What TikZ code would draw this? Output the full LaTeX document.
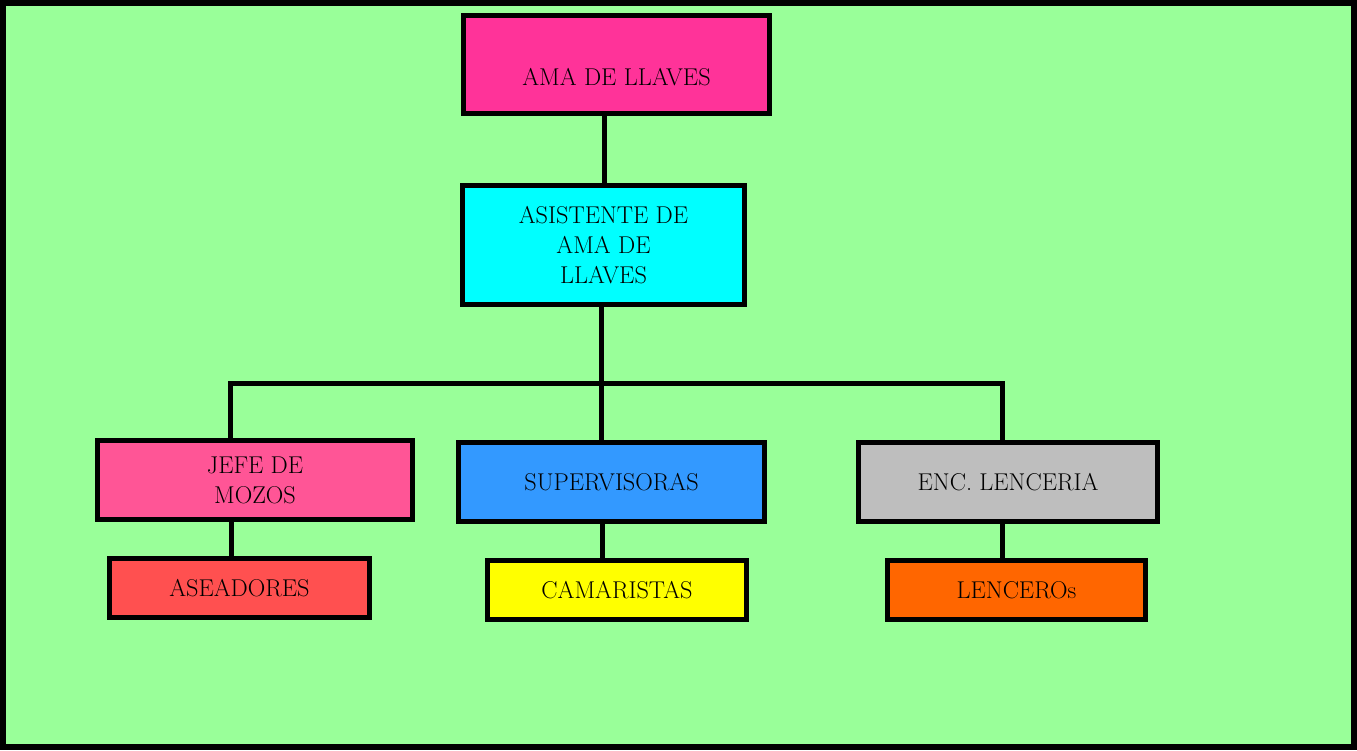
\documentclass[tikz,border=0pt]{standalone}
\usepackage{xcolor}
\definecolor{bggreen}{RGB}{153,255,153}
\definecolor{amacol}{RGB}{255,51,153}
\definecolor{asiscol}{RGB}{0,255,255}
\definecolor{jefecol}{RGB}{255,85,150}
\definecolor{aseacol}{RGB}{255,80,80}
\definecolor{supcol}{RGB}{51,153,255}
\definecolor{camcol}{RGB}{255,255,0}
\definecolor{enccol}{RGB}{190,190,190}
\definecolor{lenccol}{RGB}{255,102,0}
\begin{document}
\begin{tikzpicture}[x=1pt,y=-1pt,
  orgbox/.style={draw=black, line width=5pt, inner sep=0pt, align=center,
    font=\fontsize{24.3}{30}\selectfont, text=black},
  conn/.style={draw=black, line width=5pt, line join=miter}]
\useasboundingbox (0,0) rectangle (1357,750);
\draw[line width=6pt, fill=bggreen] (3,3) rectangle (1354,747);

% connector columns
\coordinate (top) at (604,0);
\coordinate (bc) at (601,383);
\coordinate (busL) at (230,383);
\coordinate (busR) at (1002,383);
\coordinate (cJ) at (231,0);
\coordinate (cS) at (602,0);
\coordinate (cE) at (1002,0);

% boxes
\node[orgbox, fill=amacol, minimum width=306pt, minimum height=98pt, text height=42pt, text depth=0pt] (ama) at (616.5,64.5) {AMA DE LLAVES};
\node[orgbox, fill=asiscol, minimum width=282pt, minimum height=119pt] (asis) at (603.5,245) {ASISTENTE DE\\AMA DE\\LLAVES};
\node[orgbox, fill=jefecol, minimum width=315pt, minimum height=79pt] (jefe) at (255,480) {JEFE DE\\MOZOS};
\node[orgbox, fill=aseacol, minimum width=260pt, minimum height=59pt] (asea) at (239.5,588) {ASEADORES};
\node[orgbox, fill=supcol, minimum width=306pt, minimum height=79pt] (sup) at (611.5,482) {SUPERVISORAS};
\node[orgbox, fill=camcol, minimum width=259pt, minimum height=59pt] (cam) at (617,590) {CAMARISTAS};
\node[orgbox, fill=enccol, minimum width=299pt, minimum height=79pt] (enc) at (1008,482) {ENC. LENCERIA};
\node[orgbox, fill=lenccol, minimum width=258pt, minimum height=59pt] (lenc) at (1016.5,590) {LENCEROs};

% connectors
\path[conn] (top |- ama.south) -- (top |- asis.north);
\path[conn] (bc |- asis.south) -- (bc |- sup.north);
\path[conn] (busL |- jefe.north) -- (busL) -- (busR) -- (busR |- enc.north);
\path[conn] (cJ |- jefe.south) -- (cJ |- asea.north);
\path[conn] (cS |- sup.south) -- (cS |- cam.north);
\path[conn] (cE |- enc.south) -- (cE |- lenc.north);
\end{tikzpicture}
\end{document}
